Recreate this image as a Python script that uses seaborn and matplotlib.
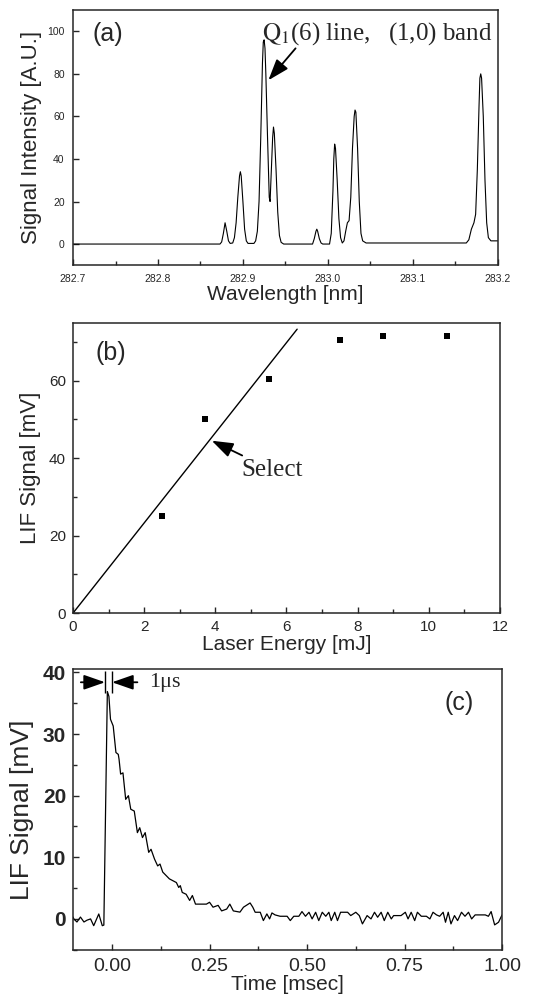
import numpy as np
import pandas as pd
import matplotlib
matplotlib.use("Agg")
import matplotlib.pyplot as plt
from matplotlib.ticker import MultipleLocator, FormatStrFormatter
import seaborn as sns

# ---------------- data ----------------
# (a) LIF excitation spectrum (traced vertices)
wavelength_nm = [282.700, 282.873, 282.875, 282.877, 282.879, 282.881, 282.883, 282.885,
                 282.888, 282.890, 282.892, 282.894, 282.896, 282.897, 282.898, 282.900,
                 282.902, 282.904, 282.906, 282.913, 282.915, 282.917, 282.919, 282.921,
                 282.923, 282.924, 282.925, 282.926, 282.927, 282.929, 282.931, 282.932,
                 282.933, 282.935, 282.936, 282.937, 282.939, 282.941, 282.943, 282.945,
                 282.948, 282.982, 282.984, 282.986, 282.987, 282.988, 282.990, 282.992,
                 282.994, 283.002, 283.004, 283.006, 283.007, 283.008, 283.009, 283.011,
                 283.013, 283.015, 283.017, 283.019, 283.021, 283.023, 283.025, 283.027,
                 283.029, 283.031, 283.032, 283.033, 283.035, 283.037, 283.039, 283.041,
                 283.045, 283.163, 283.166, 283.169, 283.172, 283.174, 283.176, 283.178,
                 283.179, 283.180, 283.181, 283.183, 283.185, 283.187, 283.189, 283.192,
                 283.200]
intensity_au = [0, 0, 1, 5, 10, 6, 1.5, 0.3,
                0.5, 3, 10, 22, 32, 34, 32, 20,
                7, 1.5, 0.3, 0.3, 1.5, 6, 20, 50,
                85, 95, 96, 92, 80, 50, 22, 20,
                30, 50, 55, 52, 35, 15, 4, 0.8,
                0, 0, 2.5, 6, 7, 6, 2.5, 0.5,
                0, 0, 5, 25, 40, 47, 45, 30,
                12, 3, 0.5, 1.5, 6, 10, 11, 22,
                45, 60, 63, 62, 45, 20, 5, 1.5,
                0.5, 0.5, 2, 7, 10, 14, 35, 65,
                78, 80, 78, 60, 30, 10, 3, 1.5,
                1.5]

# (b) LIF signal vs laser energy
energy_mj = [2.5, 3.7, 5.5, 7.5, 8.7, 10.5]
lif_mv = [25, 50, 60.5, 70.5, 71.6, 71.6]
fit_energy = [0.0, 6.3]
fit_lif = [0.0, 73.3]

# (c) LIF temporal decay
time_ms = [-0.100, -0.098, -0.090, -0.081, -0.072, -0.064, -0.055, -0.047, -0.034, -0.025,
           -0.021, -0.012, -0.008, -0.004, 0.003, 0.010, 0.016, 0.018, 0.022, 0.028,
           0.035, 0.042, 0.048, 0.057, 0.065, 0.071, 0.078, 0.085, 0.094, 0.100,
           0.109, 0.117, 0.123, 0.130, 0.147, 0.165, 0.171, 0.175, 0.180, 0.190,
           0.199, 0.206, 0.214, 0.242, 0.250, 0.259, 0.272, 0.281, 0.294, 0.302,
           0.311, 0.328, 0.337, 0.354, 0.361, 0.367, 0.380, 0.388, 0.397, 0.404,
           0.410, 0.418, 0.431, 0.449, 0.457, 0.466, 0.479, 0.487, 0.496, 0.505,
           0.513, 0.522, 0.530, 0.539, 0.548, 0.556, 0.562, 0.571, 0.578, 0.586,
           0.604, 0.612, 0.625, 0.634, 0.642, 0.654, 0.664, 0.673, 0.681, 0.690,
           0.698, 0.707, 0.716, 0.722, 0.741, 0.752, 0.759, 0.767, 0.776, 0.783,
           0.793, 0.806, 0.815, 0.823, 0.832, 0.840, 0.849, 0.855, 0.862, 0.869,
           0.878, 0.886, 0.896, 0.905, 0.914, 0.922, 0.931, 0.957, 0.965, 0.972,
           0.981, 0.991, 1.000]
signal_mv = [0.3, 0.0, -0.5, 0.3, -0.5, -0.2, 0.0, -1.1, 0.8, -1.1,
             -1.0, 36.9, 36.1, 32.4, 31.3, 27.0, 26.7, 25.9, 23.5, 23.7,
             19.4, 20.0, 17.8, 17.5, 14.0, 14.8, 13.2, 14.0, 10.8, 11.3,
             9.7, 8.6, 8.9, 7.6, 6.5, 5.9, 5.1, 5.4, 4.3, 4.0,
             3.0, 3.8, 2.4, 2.4, 2.7, 1.9, 2.2, 1.3, 1.6, 2.4,
             1.3, 1.1, 1.9, 2.59, 1.89, 1.08, 1.08, -0.27, 0.81, 0.0,
             0.97, 0.65, 0.43, 0.43, -0.27, 0.43, 0.43, 1.19, 0.43, 1.08,
             0.0, 1.08, -0.27, 1.08, 0.43, 1.08, -0.27, 1.08, -0.27, 1.08,
             1.08, 0.54, 1.08, 0.54, -0.81, 0.54, 0.0, 1.08, 0.27, 1.08,
             -0.27, 1.08, 0.0, 0.54, 0.54, 1.08, 0.0, 1.08, -0.27, 1.08,
             0.43, 0.43, 0.0, 1.08, 0.65, 0.43, 1.08, -0.54, 1.08, -0.81,
             0.54, -0.27, 1.08, 0.43, 1.08, 0.0, 0.65, 0.65, 0.43, 1.19,
             -0.97, -0.54, 0.65]

# ---------------- style ----------------
sns.set_theme(style="ticks")
plt.rcParams["font.family"] = ["Liberation Sans", "DejaVu Sans"]
plt.rcParams["axes.linewidth"] = 1.1
plt.rcParams["mathtext.fontset"] = "stix"
SERIF = ["Liberation Serif", "DejaVu Serif"]

fig = plt.figure(figsize=(5.41, 10.05), dpi=100)
ax_a = fig.add_axes([0.135, 0.736, 0.785, 0.254])
ax_b = fig.add_axes([0.135, 0.390, 0.789, 0.289])
ax_c = fig.add_axes([0.135, 0.055, 0.793, 0.279])

arrow_kw = dict(arrowstyle="-|>,head_length=1.0,head_width=0.35", color="black",
                lw=1.3, shrinkA=0, shrinkB=0, mutation_scale=13)

# ---------------- (a) ----------------
df_a = pd.DataFrame({"w": wavelength_nm, "I": intensity_au})
sns.lineplot(data=df_a, x="w", y="I", ax=ax_a, color="black", lw=0.8,
             sort=False, estimator=None)
ax_a.set_xlim(282.7, 283.2)
ax_a.set_ylim(-10, 110)
ax_a.xaxis.set_major_locator(MultipleLocator(0.1))
ax_a.xaxis.set_minor_locator(MultipleLocator(0.05))
ax_a.yaxis.set_major_locator(MultipleLocator(20))
ax_a.xaxis.set_major_formatter(FormatStrFormatter("%.1f"))
ax_a.tick_params(direction="in", labelsize=7.5, length=4, width=1, pad=6)
ax_a.tick_params(which="minor", direction="in", length=3, width=1)
ax_a.set_xlabel("Wavelength [nm]", fontsize=15, labelpad=1)
ax_a.set_ylabel("Signal Intensity [A.U.]", fontsize=16, labelpad=4)
ax_a.text(282.723, 98.6, "(a)", fontsize=18, ha="left", va="center")
ax_a.text(282.923, 99, r"$\mathrm{Q}_1$(6) line,   (1,0) band", fontsize=18,
          ha="left", va="center", family=SERIF)
ax_a.annotate("", xy=(282.930, 77), xytext=(282.962, 92), arrowprops=arrow_kw)

# ---------------- (b) ----------------
df_b = pd.DataFrame({"E": energy_mj, "S": lif_mv})
df_fit = pd.DataFrame({"E": fit_energy, "S": fit_lif})
sns.lineplot(data=df_fit, x="E", y="S", ax=ax_b, color="black", lw=1.0)
sns.scatterplot(data=df_b, x="E", y="S", ax=ax_b, marker="s", s=22, color="black",
                edgecolor="black", linewidth=0)
ax_b.set_xlim(0, 12)
ax_b.set_ylim(0, 75)
ax_b.xaxis.set_major_locator(MultipleLocator(2))
ax_b.xaxis.set_minor_locator(MultipleLocator(1))
ax_b.yaxis.set_major_locator(MultipleLocator(20))
ax_b.yaxis.set_minor_locator(MultipleLocator(10))
ax_b.tick_params(direction="in", labelsize=11, length=4, width=1, pad=5)
ax_b.tick_params(which="minor", direction="in", length=3, width=1)
ax_b.set_xlabel("Laser Energy [mJ]", fontsize=15, labelpad=1)
ax_b.set_ylabel("LIF Signal [mV]", fontsize=16, labelpad=6)
ax_b.text(0.62, 67.2, "(b)", fontsize=18, ha="left", va="center")
ax_b.annotate("Select", xy=(3.9, 44.5), xytext=(4.72, 37), fontsize=18,
              family=SERIF, ha="left", va="center", arrowprops=arrow_kw)

# ---------------- (c) ----------------
df_c = pd.DataFrame({"t": time_ms, "S": signal_mv})
sns.lineplot(data=df_c, x="t", y="S", ax=ax_c, color="black", lw=0.9,
             sort=False, estimator=None)
ax_c.set_xlim(-0.1, 1.0)
ax_c.set_ylim(-5, 40.5)
ax_c.xaxis.set_major_locator(MultipleLocator(0.25))
ax_c.xaxis.set_minor_locator(MultipleLocator(0.125))
ax_c.yaxis.set_major_locator(MultipleLocator(10))
ax_c.yaxis.set_minor_locator(MultipleLocator(5))
ax_c.xaxis.set_major_formatter(FormatStrFormatter("%.2f"))
ax_c.tick_params(axis="x", direction="in", labelsize=14, length=4, width=1, pad=6)
ax_c.tick_params(axis="y", direction="in", labelsize=15, length=4, width=1, pad=5)
ax_c.tick_params(which="minor", direction="in", length=3, width=1)
for lbl in ax_c.get_yticklabels():
    lbl.set_fontweight("bold")
ax_c.set_xlabel("Time [msec]", fontsize=15, labelpad=0)
ax_c.set_ylabel("LIF Signal [mV]", fontsize=19, labelpad=6)
ax_c.text(0.853, 35.1, "(c)", fontsize=18, ha="left", va="center")
ax_c.vlines([-0.018, 0.0], 36.7, 40.2, color="black", lw=1.0)
ax_c.annotate("", xy=(-0.018, 38.4), xytext=(-0.08, 38.4), arrowprops=arrow_kw)
ax_c.annotate("", xy=(0.0, 38.4), xytext=(0.065, 38.4), arrowprops=arrow_kw)
ax_c.text(0.096, 38.4, "1μs", fontsize=16, family=SERIF, ha="left", va="center")

fig.savefig("out.png", dpi=100)
